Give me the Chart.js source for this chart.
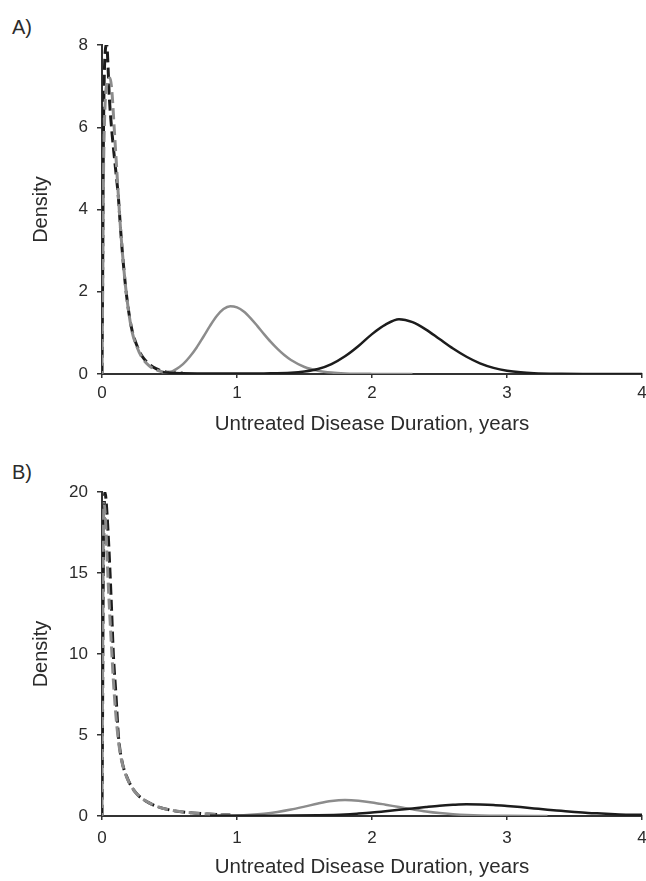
<!DOCTYPE html>
<html>
<head>
<meta charset="utf-8">
<script src="https://cdn.jsdelivr.net/npm/chart.js@4.4.0/dist/chart.umd.min.js"></script>
<style>
html,body{margin:0;padding:0;background:#fff;}
body{width:646px;height:881px;position:relative;overflow:hidden;font-family:"Liberation Sans",Arial,sans-serif;}
.panel{position:absolute;left:0;width:646px;}
#wa{top:0;height:440px;}
#wb{top:440px;height:441px;}
.lab{position:absolute;left:12px;font-size:20px;color:#2b2b2b;line-height:20px;}
</style>
</head>
<body>
<div class="lab" style="top:17px;">A)</div>
<div class="lab" style="top:462px;">B)</div>
<div class="panel" id="wa"><canvas id="ca" width="646" height="440"></canvas></div>
<div class="panel" id="wb"><canvas id="cb" width="646" height="441"></canvas></div>
<script>
// ---- Data ----
const xTicks = [0, 1, 2, 3, 4];
const yTicksA = [0, 2, 4, 6, 8];
const yTicksB = [0, 5, 10, 15, 20];

// Panel A
const aBlackDashX = [0, 0.005, 0.01, 0.02, 0.035, 0.047, 0.054, 0.072, 0.096, 0.121, 0.138, 0.158, 0.183, 0.22, 0.26, 0.3, 0.35, 0.4, 0.45, 0.5, 0.6];
const aBlackDashY = [0, 2.5, 5.5, 7.6, 8.0, 7.3, 6.75, 5.94, 5.13, 4.31, 3.5, 2.69, 1.88, 1.1, 0.68, 0.42, 0.24, 0.13, 0.07, 0.04, 0.02];
const aGrayDashX = [0, 0.005, 0.01, 0.02, 0.04, 0.06, 0.075, 0.09, 0.105, 0.12, 0.138, 0.158, 0.183, 0.22, 0.26, 0.3, 0.35, 0.4, 0.45, 0.5];
const aGrayDashY = [0, 2, 4.5, 6.3, 7.1, 7.2, 6.8, 6.0, 5.2, 4.4, 3.5, 2.69, 1.88, 1.07, 0.65, 0.38, 0.2, 0.1, 0.05, 0.02];
const aGraySolidX = [0.45, 0.5, 0.55, 0.6, 0.65, 0.7, 0.75, 0.8, 0.85, 0.9, 0.95, 1.0, 1.05, 1.1, 1.15, 1.2, 1.25, 1.3, 1.35, 1.4, 1.5, 1.6, 1.7, 1.8, 2.0, 2.3];
const aGraySolidY = [0.01, 0.04, 0.12, 0.24, 0.42, 0.64, 0.9, 1.17, 1.41, 1.58, 1.65, 1.62, 1.52, 1.36, 1.17, 0.97, 0.78, 0.61, 0.46, 0.34, 0.17, 0.08, 0.035, 0.015, 0.003, 0];
const aBlackSolidX = [0.45, 0.6, 0.8, 1.0, 1.2, 1.4, 1.5, 1.6, 1.7, 1.8, 1.9, 2.0, 2.1, 2.2, 2.3, 2.4, 2.5, 2.6, 2.7, 2.8, 2.9, 3.0, 3.1, 3.2, 3.4, 3.6, 4.0];
const aBlackSolidY = [0.04, 0.02, 0.01, 0.01, 0.015, 0.03, 0.06, 0.12, 0.24, 0.43, 0.68, 0.97, 1.2, 1.33, 1.26, 1.08, 0.85, 0.62, 0.42, 0.26, 0.15, 0.08, 0.04, 0.02, 0.006, 0.002, 0];

// Panel B
const bBlackDashX = [0, 0.004, 0.008, 0.015, 0.022, 0.03, 0.047, 0.059, 0.072, 0.084, 0.104, 0.121, 0.146, 0.183, 0.244, 0.356, 0.504, 0.7, 0.95];
const bBlackDashY = [0, 6, 13, 18.5, 20.0, 19.5, 17.2, 15.1, 12.5, 10.0, 7.4, 5.0, 3.46, 2.43, 1.5, 0.78, 0.37, 0.17, 0.06];
const bGrayDashX = [0, 0.004, 0.008, 0.015, 0.025, 0.035, 0.047, 0.059, 0.072, 0.084, 0.1, 0.121, 0.146, 0.183, 0.244, 0.356, 0.504, 0.7, 0.95];
const bGrayDashY = [0, 8, 15, 19.3, 18.5, 16.5, 14.2, 12.2, 10.2, 8.4, 6.5, 4.7, 3.4, 2.4, 1.5, 0.78, 0.37, 0.17, 0.06];
const bGraySolidX = [0.8, 1.0, 1.1, 1.2, 1.3, 1.4, 1.5, 1.6, 1.7, 1.8, 1.9, 2.0, 2.1, 2.2, 2.3, 2.4, 2.5, 2.6, 2.7, 2.8, 3.0, 3.3];
const bGraySolidY = [0.01, 0.03, 0.07, 0.14, 0.25, 0.4, 0.58, 0.77, 0.92, 0.98, 0.94, 0.84, 0.7, 0.55, 0.41, 0.28, 0.18, 0.11, 0.06, 0.03, 0.01, 0];
const bBlackSolidX = [0.8, 1.0, 1.2, 1.4, 1.6, 1.8, 1.9, 2.0, 2.1, 2.2, 2.3, 2.4, 2.5, 2.6, 2.7, 2.8, 2.9, 3.0, 3.1, 3.2, 3.3, 3.4, 3.5, 3.6, 3.7, 3.8, 3.9, 4.0];
const bBlackSolidY = [0.01, 0.01, 0.015, 0.025, 0.05, 0.1, 0.15, 0.21, 0.29, 0.38, 0.47, 0.56, 0.64, 0.69, 0.72, 0.71, 0.68, 0.62, 0.55, 0.47, 0.39, 0.32, 0.25, 0.19, 0.15, 0.11, 0.08, 0.07];

const xTitle = 'Untreated Disease Duration, years';
const yTitle = 'Density';

// ---- Styles ----
const FF = '"Liberation Sans", Arial, sans-serif';
const TXT = '#2b2b2b';
const AX = '#333333';
const GRAY = '#8c8c8c';
const BLACK = '#1c1c1c';

function ds(xs, ys, color, dash, width, off) {
  return {
    data: xs.map((x, i) => ({x: x, y: ys[i]})),
    borderColor: color, borderWidth: width, borderDash: dash, borderDashOffset: off || 0,
    pointRadius: 0, fill: false, cubicInterpolationMode: 'monotone',
    borderCapStyle: 'butt', borderJoinStyle: 'round'
  };
}

function makeOpts(yTicks, axisH, xTickPad, xTitlePadB, topPad) {
  const ymax = yTicks[yTicks.length - 1];
  const ystep = yTicks[1] - yTicks[0];
  return {
    responsive: false, animation: false, events: [],
    layout: {padding: {top: topPad, right: 4, bottom: 0, left: 0}},
    plugins: {legend: {display: false}, tooltip: {enabled: false}},
    scales: {
      x: {
        type: 'linear', min: xTicks[0], max: xTicks[xTicks.length - 1],
        ticks: {stepSize: 1, color: TXT, font: {size: 17, family: FF}, padding: xTickPad, maxRotation: 0},
        grid: {display: true, drawOnChartArea: false, drawTicks: true, tickLength: 4, color: AX, lineWidth: 1.5},
        border: {display: true, color: AX, width: 2},
        title: {display: true, text: xTitle, color: TXT, font: {size: 20.5, family: FF}, padding: {top: 0, bottom: xTitlePadB}},
        afterFit(s) { s.height = axisH; s.paddingLeft = 0; s.paddingRight = 0; }
      },
      y: {
        min: 0, max: ymax,
        ticks: {stepSize: ystep, color: TXT, font: {size: 17, family: FF}, padding: 9},
        grid: {display: true, drawOnChartArea: false, drawTicks: true, tickLength: 5, color: AX, lineWidth: 1.5},
        border: {display: true, color: AX, width: 2},
        title: {display: true, text: yTitle, color: TXT, font: {size: 20, family: FF}, padding: {top: 29, bottom: 0}},
        afterFit(s) { s.width = 102; s.paddingTop = 0; s.paddingBottom = 0; }
      }
    }
  };
}

new Chart(document.getElementById('ca'), {
  type: 'line',
  data: {datasets: [
    ds(aBlackSolidX, aBlackSolidY, BLACK, [], 2.5),
    ds(aGraySolidX, aGraySolidY, GRAY, [], 2.5),
    ds(aGrayDashX, aGrayDashY, GRAY, [11, 5], 3, 8),
    ds(aBlackDashX, aBlackDashY, BLACK, [11, 5], 3, 0)
  ]},
  options: makeOpts(yTicksA, 66, 5, 3, 45)
});

new Chart(document.getElementById('cb'), {
  type: 'line',
  data: {datasets: [
    ds(bBlackSolidX, bBlackSolidY, BLACK, [], 2.5),
    ds(bGraySolidX, bGraySolidY, GRAY, [], 2.5),
    ds(bGrayDashX, bGrayDashY, GRAY, [11, 5], 3, 8),
    ds(bBlackDashX, bBlackDashY, BLACK, [11, 5], 3, 0)
  ]},
  options: makeOpts(yTicksB, 65, 8, 1, 52)
});
</script>
</body>
</html>
